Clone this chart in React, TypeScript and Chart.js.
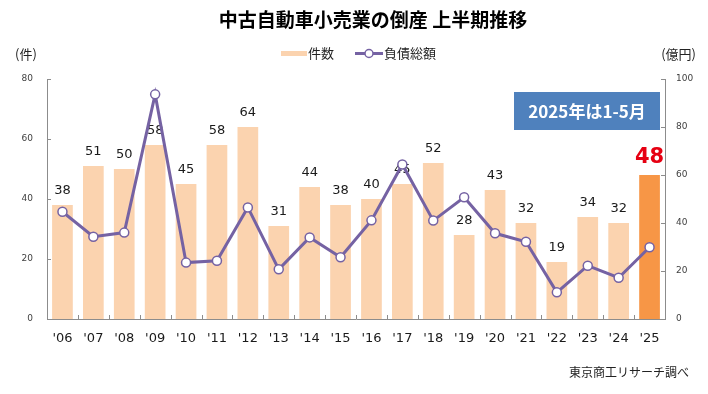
import React, { useEffect, useRef } from "react";
import { Chart, registerables } from "chart.js";

Chart.register(...registerables);

const years = ["'06", "'07", "'08", "'09", "'10", "'11", "'12", "'13", "'14", "'15", "'16", "'17", "'18", "'19", "'20", "'21", "'22", "'23", "'24", "'25"];
const cases = [38, 51, 50, 58, 45, 58, 64, 31, 44, 38, 40, 45, 52, 28, 43, 32, 19, 34, 32, 48];
const debt = [44.7, 34.3, 36, 93.6, 23.5, 24.3, 46.5, 20.7, 34, 25.7, 41.1, 64.4, 41, 50.7, 35.7, 32.2, 11.1, 22.2, 17.2, 29.9];
const leftTicks = [0, 20, 40, 60, 80];
const rightTicks = [0, 20, 40, 60, 80, 100];

const TITLE = "中古自動車小売業の倒産 上半期推移";
const LEGEND_BAR = "件数";
const LEGEND_LINE = "負債総額";
const UNIT_LEFT = "(件)";
const UNIT_RIGHT = "(億円)";
const NOTE = "2025年は1-5月";
const SOURCE = "東京商工リサーチ調べ";

const BAR_COLOR = "#FBD3AF";
const BAR_HIGHLIGHT = "#F79646";
const LINE_COLOR = "#7562A3";
const AXIS_COLOR = "#8c8c8c";
const JP = "'Noto Sans CJK JP', 'Noto Sans', sans-serif";
const NUM = "'DejaVu Sans', Verdana, sans-serif";

const decorPlugin = {
  id: "decor",
  afterDatasetDraw(chart: any, args: any) {
    if (args.index !== 0) return;
    const ctx = chart.ctx;
    const meta = chart.getDatasetMeta(0);
    ctx.save();
    ctx.textAlign = "center";
    ctx.textBaseline = "alphabetic";
    meta.data.forEach((bar: any, i: number) => {
      const last = i === cases.length - 1;
      if (last) {
        ctx.font = `bold 21px ${NUM}`;
        ctx.fillStyle = "#E60012";
        ctx.fillText(String(cases[i]), bar.x, bar.y - 12);
      } else {
        ctx.font = `13px ${NUM}`;
        ctx.fillStyle = "#1a1a1a";
        ctx.fillText(String(cases[i]), bar.x, bar.y - 11);
      }
    });
    ctx.restore();
  },
  afterDraw(chart: any) {
    const ctx = chart.ctx;
    const area = chart.chartArea;
    const yL = chart.scales.y;
    const yR = chart.scales.y1;
    ctx.save();
    // inward ticks
    ctx.strokeStyle = AXIS_COLOR;
    ctx.lineWidth = 1;
    ctx.beginPath();
    leftTicks.forEach((v) => {
      const y = Math.round(yL.getPixelForValue(v)) + 0.5;
      ctx.moveTo(area.left, y);
      ctx.lineTo(area.left + 4, y);
    });
    rightTicks.forEach((v) => {
      const y = Math.round(yR.getPixelForValue(v)) + 0.5;
      ctx.moveTo(area.right, y);
      ctx.lineTo(area.right - 4, y);
    });
    const n = years.length;
    const w = (area.right - area.left) / n;
    for (let i = 1; i < n; i++) {
      const x = Math.round(area.left + i * w) + 0.5;
      ctx.moveTo(x, area.bottom);
      ctx.lineTo(x, area.bottom - 4);
    }
    ctx.stroke();

    // title
    ctx.fillStyle = "#000";
    ctx.textAlign = "center";
    ctx.textBaseline = "middle";
    ctx.font = `bold 19px ${JP}`;
    ctx.fillText(TITLE, 373, 20);

    // legend
    ctx.fillStyle = BAR_COLOR;
    ctx.fillRect(281, 51, 26, 5);
    ctx.fillStyle = "#222";
    ctx.font = `13px ${JP}`;
    ctx.textAlign = "left";
    ctx.fillText(LEGEND_BAR, 308, 53.5);
    ctx.strokeStyle = LINE_COLOR;
    ctx.lineWidth = 3;
    ctx.beginPath();
    ctx.moveTo(355, 53.5);
    ctx.lineTo(383, 53.5);
    ctx.stroke();
    ctx.beginPath();
    ctx.arc(369, 53.5, 4, 0, Math.PI * 2);
    ctx.fillStyle = "#fff";
    ctx.fill();
    ctx.lineWidth = 1.5;
    ctx.stroke();
    ctx.fillStyle = "#222";
    ctx.fillText(LEGEND_LINE, 384, 53.5);

    // units
    ctx.font = `13px ${JP}`;
    ctx.textAlign = "left";
    ctx.fillText(UNIT_LEFT, 15, 54);
    ctx.textAlign = "right";
    ctx.fillText(UNIT_RIGHT, 696, 54);

    // note box
    ctx.fillStyle = "#4F81BD";
    ctx.fillRect(514, 92, 146, 38);
    ctx.fillStyle = "#fff";
    ctx.textAlign = "center";
    ctx.font = `bold 17px ${JP}`;
    ctx.fillText(NOTE, 587, 111.5);

    // source
    ctx.fillStyle = "#222";
    ctx.font = `12px ${JP}`;
    ctx.textAlign = "right";
    ctx.fillText(SOURCE, 689, 372);
    ctx.restore();
  },
};

export default function App() {
  const ref = useRef<HTMLCanvasElement | null>(null);
  useEffect(() => {
    if (!ref.current) return;
    const chart = new Chart(ref.current, {
      type: "bar",
      data: {
        labels: years,
        datasets: [
          {
            type: "bar",
            label: LEGEND_BAR,
            data: cases,
            backgroundColor: cases.map((_, i) => (i === cases.length - 1 ? BAR_HIGHLIGHT : BAR_COLOR)),
            borderWidth: 0,
            categoryPercentage: 1,
            barPercentage: 0.67,
            yAxisID: "y",
            order: 2,
          },
          {
            type: "line",
            label: LEGEND_LINE,
            data: debt,
            borderColor: LINE_COLOR,
            borderWidth: 3,
            pointRadius: 4.5,
            pointBorderWidth: 1.5,
            pointBackgroundColor: "#fff",
            pointBorderColor: LINE_COLOR,
            tension: 0,
            yAxisID: "y1",
            order: 1,
          },
        ],
      },
      options: {
        responsive: false,
        animation: false,
        layout: { padding: { top: 79, left: 0, right: 0, bottom: 0 } },
        plugins: { legend: { display: false }, title: { display: false }, tooltip: { enabled: false } },
        scales: {
          x: {
            offset: true,
            grid: { display: false, drawTicks: false },
            border: { display: true, color: AXIS_COLOR, width: 1 },
            ticks: { color: "#1a1a1a", font: { family: NUM, size: 13 }, padding: 12, maxRotation: 0, autoSkip: false },
            afterFit: (s: any) => { s.height = 75; },
          },
          y: {
            position: "left",
            min: 0,
            max: 80,
            afterBuildTicks: (s: any) => { s.ticks = leftTicks.map((v) => ({ value: v })); },
            grid: { display: false, drawTicks: false },
            border: { display: true, color: AXIS_COLOR, width: 1 },
            ticks: { color: "#404040", font: { family: NUM, size: 9 }, padding: 14 },
            afterFit: (s: any) => { s.width = 47; },
          },
          y1: {
            position: "right",
            min: 0,
            max: 100,
            afterBuildTicks: (s: any) => { s.ticks = rightTicks.map((v) => ({ value: v })); },
            grid: { display: false, drawTicks: false },
            border: { display: true, color: AXIS_COLOR, width: 1 },
            ticks: { color: "#404040", font: { family: NUM, size: 9 }, padding: 11 },
            afterFit: (s: any) => { s.width = 43; },
          },
        },
      },
      plugins: [decorPlugin],
    } as any);
    return () => chart.destroy();
  }, []);
  return (
    <div style={{ position: "absolute", left: 0, top: 0, width: 708, height: 394, background: "#fff" }}>
      <canvas ref={ref} width={708} height={394} style={{ width: 708, height: 394, display: "block" }} />
    </div>
  );
}
